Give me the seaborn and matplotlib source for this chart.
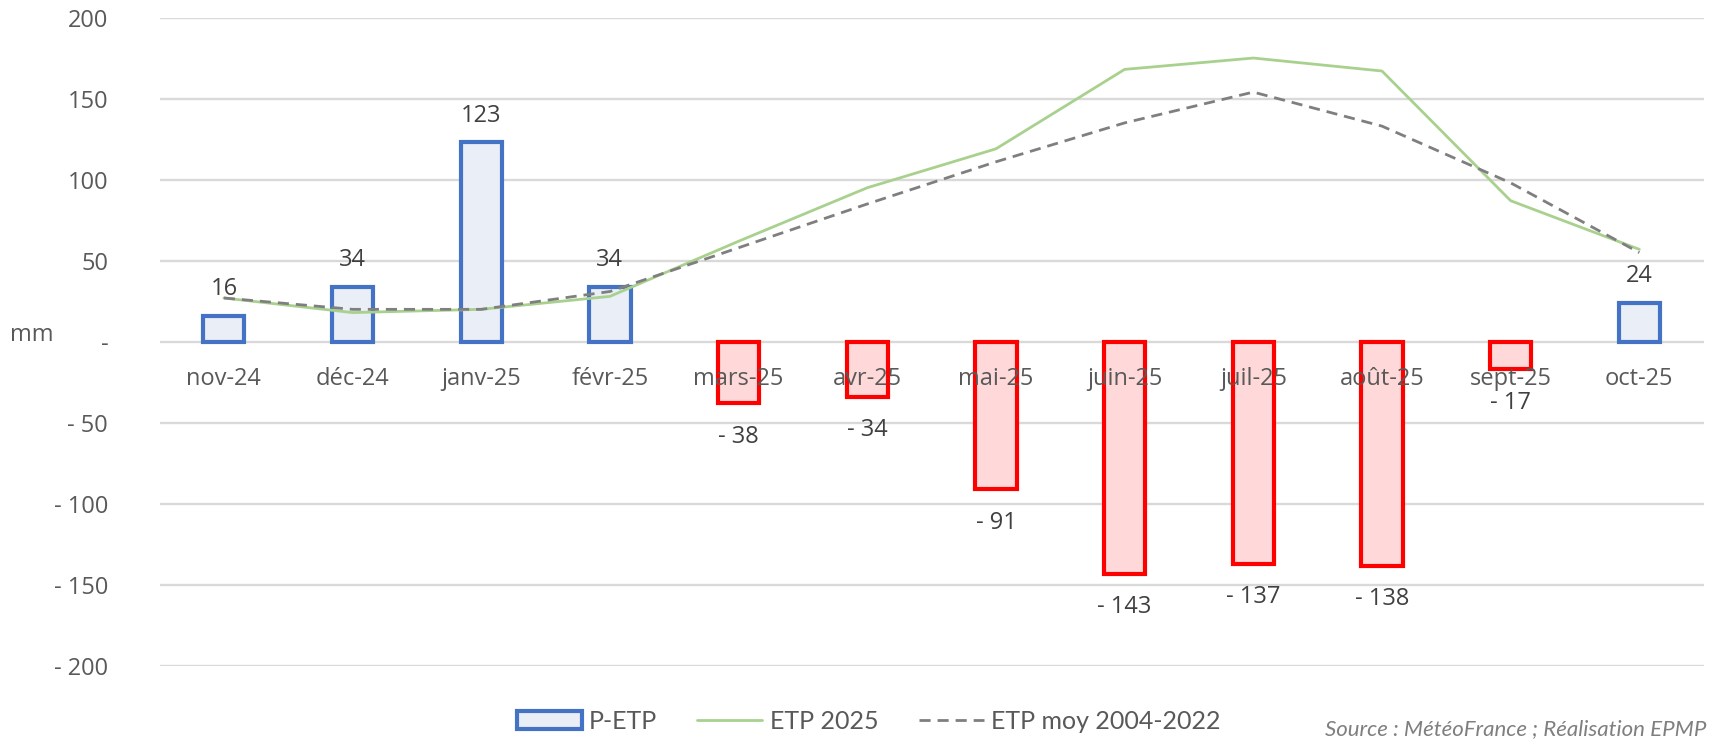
# Bilan P-ETP mensuel et ETP (nov-24 a oct-25)
import matplotlib
matplotlib.use("Agg")
import matplotlib.pyplot as plt
from matplotlib.patches import Patch
from matplotlib.lines import Line2D
import seaborn as sns
import numpy as np
import pandas as pd

# Data
months = ["nov-24", "déc-24", "janv-25", "févr-25", "mars-25", "avr-25",
          "mai-25", "juin-25", "juil-25", "août-25", "sept-25", "oct-25"]
p_etp = [16, 34, 123, 34, -38, -34, -91, -143, -137, -138, -17, 24]
etp_2025 = [27, 18, 20, 28, 62, 95, 119, 168, 175, 167, 87, 57]
etp_moy = [27, 20, 20, 31, 58, 85, 111, 135, 154, 133, 98, 55]
y_ticks = [200, 150, 100, 50, 0, -50, -100, -150, -200]

df = pd.DataFrame({"mois": months, "p_etp": p_etp,
                   "etp_2025": etp_2025, "etp_moy": etp_moy})
df["pos"] = np.arange(len(df))

sns.set_theme(style="white")
plt.rcParams["font.family"] = ["Open Sans", "DejaVu Sans"]

fig = plt.figure(figsize=(17.1, 7.42), dpi=100)
ax = fig.add_axes([0.0933, 0.1024, 0.9030, 0.8740])

# gridlines
for t in y_ticks:
    ax.axhline(t, color="#D9D9D9", lw=1.7, zorder=0)

# bars
sns.barplot(data=df, x="mois", y="p_etp", order=months, width=0.32,
            ax=ax, zorder=2)
for bar, v in zip(ax.patches, p_etp):
    if v >= 0:
        bar.set_facecolor("#E9EEF7")
        bar.set_edgecolor("#4472C4")
    else:
        bar.set_facecolor("#FFD9D9")
        bar.set_edgecolor("#FF0000")
    bar.set_linewidth(3.0)

# lines
sns.lineplot(data=df, x="pos", y="etp_2025", color="#A9D18E", lw=2.0,
             ax=ax, zorder=3)
sns.lineplot(data=df, x="pos", y="etp_moy", color="#7F7F7F", lw=2.0,
             ax=ax, zorder=3)
ax.lines[-1].set_dashes([4, 2.5])

# value labels
for i, v in enumerate(p_etp):
    txt = f"{v}" if v >= 0 else f"- {abs(v)}"
    off = 19 if v >= 0 else -24
    ax.annotate(txt, (i, v), xytext=(0, off), textcoords="offset points",
                ha="center", va="center", fontsize=17, color="#404040", zorder=5)

# category labels along the zero line
for i, m in enumerate(months):
    ax.annotate(m, (i, 0), xytext=(0, -27), textcoords="offset points",
                ha="center", va="center", fontsize=17, color="#595959", zorder=5)

ax.set_xlim(-0.5, len(months) - 0.5)
ax.set_ylim(-200, 200)
ax.set_yticks(y_ticks)
ax.set_yticklabels([("- " + str(abs(t))) if t < 0 else ("-" if t == 0 else str(t))
                    for t in y_ticks], fontsize=17, color="#595959")
ax.set_xticks([])
ax.set_xlabel("")
ax.set_ylabel("")
ax.tick_params(axis="y", length=0, pad=37)
for s in ax.spines.values():
    s.set_visible(False)

fig.text(0.006, 0.548, "mm", fontsize=17, color="#595959", va="center")

handles = [Patch(facecolor="#E9EEF7", edgecolor="#4472C4", lw=3.0),
           Line2D([], [], color="#A9D18E", lw=2.0),
           Line2D([], [], color="#7F7F7F", lw=2.0, dashes=[4, 2.5])]
fig.legend(handles, ["P-ETP", "ETP 2025", "ETP moy 2004-2022"],
           loc="center", bbox_to_anchor=(0.508, 0.028), ncol=3, frameon=False,
           prop={"family": "Lato", "size": 18}, handlelength=2.6,
           columnspacing=1.6, handletextpad=0.3, labelcolor="#595959")

fig.text(0.998, 0.004, "Source : MétéoFrance ; Réalisation EPMP",
         family="Lato", fontsize=16, style="italic", color="#7F7F7F",
         va="bottom", ha="right")

fig.savefig("out.png", dpi=100)
